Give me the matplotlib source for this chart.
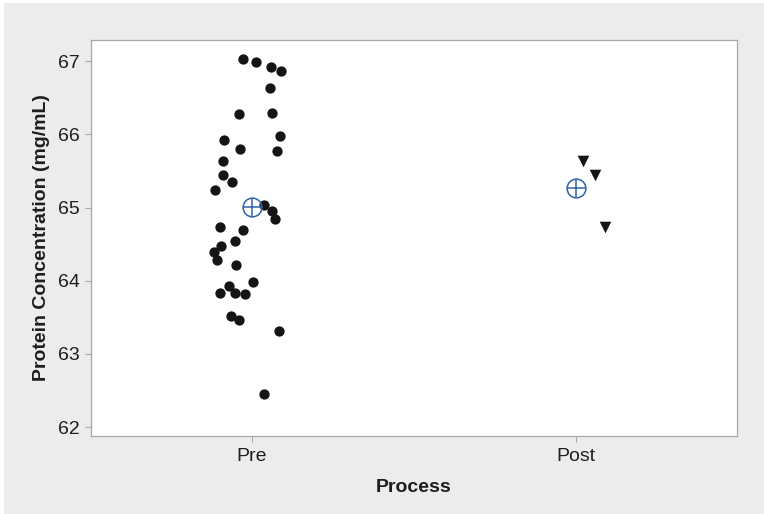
import matplotlib
matplotlib.use("Agg")
import matplotlib.pyplot as plt
import numpy as np
from matplotlib.patches import Rectangle

plt.rcParams["font.family"] = ["Liberation Sans", "DejaVu Sans"]

# ── Data ──────────────────────────────────────────────────────────────────────
categories = ["Pre", "Post"]

pre_values = [
    67.03, 66.99, 66.92, 66.86, 66.64, 66.28, 66.29, 65.93, 65.98, 65.80,
    65.77, 65.64, 65.44, 65.35, 65.24, 65.03, 64.96, 64.84, 64.73, 64.69,
    64.54, 64.47, 64.39, 64.28, 64.21, 63.98, 63.93, 63.84, 63.84, 63.82,
    63.52, 63.46, 63.31, 62.46,
]
# horizontal jitter (in category units) for the Pre points
pre_jitter = [
    -0.029, 0.012, 0.058, 0.090, 0.054, -0.041, 0.062, -0.086, 0.086, -0.037,
    0.078, -0.090, -0.090, -0.062, -0.115, 0.037, 0.062, 0.070, -0.099, -0.029,
    -0.053, -0.095, -0.117, -0.107, -0.049, 0.004, -0.070, -0.099, -0.053, -0.021,
    -0.066, -0.041, 0.082, 0.037,
]

post_values = [65.64, 65.45, 64.73]
post_jitter = [0.022, 0.059, 0.090]

# ── Figure ────────────────────────────────────────────────────────────────────
BG = "#ececec"
SPINE = "#a8a8a8"
MEAN_BLUE = "#2f64ad"
TEXT = "#1e1e1e"

fig = plt.figure(figsize=(7.64, 5.14), dpi=100, facecolor="white")
fig.patches.append(Rectangle((4 / 764, 0), 1, 1 - 3 / 514, transform=fig.transFigure,
                             facecolor=BG, edgecolor="none", zorder=-1))
ax = fig.add_axes([0.1191, 0.1518, 0.8456, 0.7704])
ax.set_facecolor("white")

ax.scatter(1 + np.array(pre_jitter), pre_values, s=55, color="#151515",
           marker="o", linewidths=0, zorder=3)
ax.scatter(2 + np.array(post_jitter), post_values, s=70, color="#151515",
           marker="v", linewidths=0, zorder=3)

# group means: open circle with a cross
for i, vals in enumerate([pre_values, post_values], start=1):
    m = np.mean(vals)
    ax.plot(i, m, marker="o", ms=13.5, mfc="none", mec=MEAN_BLUE, mew=1.1, zorder=4)
    ax.plot(i, m, marker="+", ms=13.5, mec=MEAN_BLUE, mew=1.1, zorder=4)

ax.set_xlim(0.503, 2.497)
ax.set_ylim(61.88, 67.29)
ax.set_xticks([1, 2])
ax.set_xticklabels(categories)
ax.set_yticks([62, 63, 64, 65, 66, 67])

for s in ax.spines.values():
    s.set_color(SPINE)
    s.set_linewidth(0.9)
ax.tick_params(direction="out", length=4, width=0.8, color=SPINE,
               labelsize=14, labelcolor=TEXT, pad=3)
ax.tick_params(axis="x", pad=5)
ax.tick_params(axis="y", pad=4)

ax.set_xlabel("Process", fontsize=14, fontweight="bold", color=TEXT, labelpad=10)
ax.set_ylabel("Protein Concentration (mg/mL)", fontsize=14, fontweight="bold",
              color=TEXT, labelpad=6)

fig.savefig("out.png", dpi=100, facecolor=fig.get_facecolor())
